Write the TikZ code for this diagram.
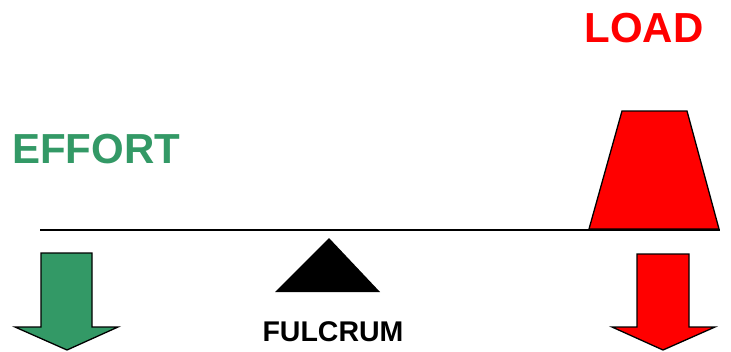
\documentclass[tikz,border=0pt]{standalone}
\usepackage{fontspec}
\setmainfont{Liberation Sans}
\definecolor{effortgreen}{HTML}{339966}
\definecolor{loadred}{HTML}{FF0000}
\begin{document}
\begin{tikzpicture}[x=1pt,y=-1pt,
  shape outline/.style={draw=black,line width=1.3pt,line join=miter},
  bigtext/.style={font=\fontsize{42}{50}\selectfont\bfseries,inner sep=0pt,anchor=base},
  smalltext/.style={font=\fontsize{28.5}{34}\selectfont\bfseries,inner sep=0pt,anchor=base}]
\useasboundingbox (0,0) rectangle (731,351);
% lever
\coordinate (leverL) at (40,230);
\coordinate (leverR) at (720,230);
\draw[line width=1.8pt] (leverL) -- (leverR);
% load block
\draw[shape outline,fill=loadred] (589,229) -- (622,111) -- (687,111) -- (719,229) -- cycle;
% fulcrum
\fill[black] (275,292) -- (329,238) -- (380,292) -- cycle;
% effort arrow
\draw[shape outline,fill=effortgreen] (41,253) -- (92,253) -- (92,327) -- (118,327) -- (67,350) -- (15,327) -- (41,327) -- cycle;
% load arrow
\draw[shape outline,fill=loadred] (637,254) -- (689,254) -- (689,327) -- (715,327) -- (663,350) -- (612,327) -- (637,327) -- cycle;
% labels
\node[bigtext,text=effortgreen] (effort) at (96,163) {EFFORT};
\node[bigtext,text=loadred] (load) at (644,42) {LOAD};
\node[smalltext] (fulcrum) at (333,341) {FULCRUM};
\end{tikzpicture}
\end{document}
